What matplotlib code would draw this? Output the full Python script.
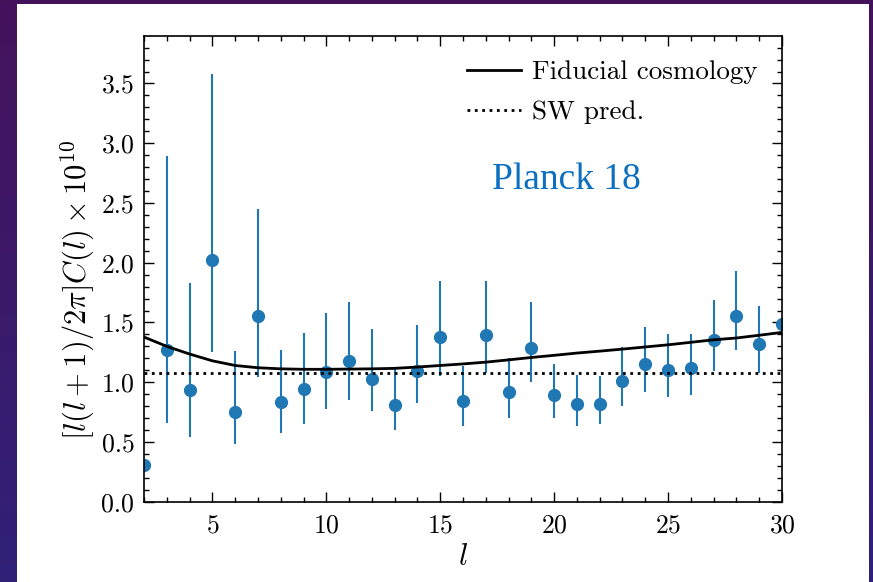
import numpy as np
import matplotlib
matplotlib.use("Agg")
import matplotlib.pyplot as plt
from matplotlib.patches import Rectangle

plt.rcParams['mathtext.fontset'] = 'cm'
plt.rcParams['font.family'] = 'serif'
plt.rcParams['font.serif'] = ['cmr10']
plt.rcParams['axes.formatter.use_mathtext'] = True

# Multipole data points with asymmetric error bars
ell = [2, 3, 4, 5, 6, 7, 8, 9, 10, 11, 12, 13, 14, 15, 16,
       17, 18, 19, 20, 21, 22, 23, 24, 25, 26, 27, 28, 29, 30]
power = [0.308, 1.266, 0.936, 2.026, 0.752, 1.557, 0.833, 0.945, 1.085, 1.174,
         1.031, 0.811, 1.090, 1.378, 0.842, 1.397, 0.914, 1.286, 0.892, 0.816,
         0.821, 1.012, 1.152, 1.104, 1.118, 1.355, 1.551, 1.319, 1.490]
upper = [0.308, 2.892, 1.831, 3.577, 1.261, 2.453, 1.272, 1.414, 1.582, 1.674,
         1.448, 1.110, 1.481, 1.850, 1.132, 1.844, 1.202, 1.671, 1.154, 1.062,
         1.054, 1.291, 1.462, 1.403, 1.403, 1.691, 1.928, 1.640, 1.490]
lower = [0.308, 0.662, 0.540, 1.252, 0.484, 1.043, 0.573, 0.654, 0.775, 0.850,
         0.758, 0.601, 0.825, 1.054, 0.637, 1.081, 0.704, 1.001, 0.699, 0.637,
         0.649, 0.805, 0.914, 0.875, 0.892, 1.098, 1.266, 1.081, 1.490]

# Fiducial cosmology curve
fid_ell = list(range(2, 31))
fid_power = [1.378, 1.300, 1.236, 1.179, 1.140, 1.121, 1.112, 1.108, 1.108, 1.110,
             1.112, 1.116, 1.127, 1.140, 1.153, 1.168, 1.187, 1.207, 1.225, 1.244,
             1.260, 1.277, 1.295, 1.313, 1.334, 1.355, 1.370, 1.393, 1.417]

# Sachs-Wolfe plateau
sw_level = 1.076

W, H = 873, 582
fig = plt.figure(figsize=(W / 100, H / 100), dpi=100)

# Slide background: purple gradient with a white panel
bg = fig.add_axes([0, 0, 1, 1], zorder=-10)
grad = np.linspace(0, 1, 256)[:, None, None]
top_c = np.array([0.27, 0.07, 0.36])
bot_c = np.array([0.19, 0.13, 0.47])
img = top_c * (1 - grad) + bot_c * grad
bg.imshow(img, aspect='auto', extent=[0, 1, 0, 1], origin='upper')
bg.add_patch(Rectangle((17 / W, 0), (869 - 17) / W, (H - 4) / H,
                       facecolor='white', edgecolor='none'))
bg.set_xlim(0, 1)
bg.set_ylim(0, 1)
bg.axis('off')

ax = fig.add_axes([144 / W, (H - 501.7) / H, (782 - 144) / W, (501.7 - 35.7) / H])

p = np.array(power)
yerr = np.vstack([p - np.array(lower), np.array(upper) - p])
ax.errorbar(ell, power, yerr=yerr, fmt='o', color='#1f77b4', ms=8.5,
            elinewidth=1.5, capsize=0, zorder=2)
ax.plot(fid_ell, fid_power, color='black', lw=2.0, label='Fiducial cosmology', zorder=3)
ax.axhline(sw_level, color='black', lw=2.0, ls=':', label='SW pred.', zorder=3)

ax.set_xlim(2, 30)
ax.set_ylim(0, 3.9)
ax.set_xticks([5, 10, 15, 20, 25, 30])
ax.set_xticks(range(2, 31), minor=True)
ax.set_yticks(np.arange(0, 3.6, 0.5))
ax.set_yticks(np.arange(0, 3.9, 0.1), minor=True)
ax.yaxis.set_major_formatter(matplotlib.ticker.FormatStrFormatter('%.1f'))
ax.tick_params(which='both', direction='in', top=True, right=True,
               labelsize=18.5, width=1.0)
ax.tick_params(axis='x', pad=9)
ax.tick_params(axis='y', pad=7)
ax.tick_params(which='major', length=7)
ax.tick_params(which='minor', length=3.5)
for s in ax.spines.values():
    s.set_linewidth(1.2)

ax.set_xlabel(r'$l$', fontsize=22, labelpad=4)
ax.set_ylabel(r'$[l(l+1)/2\pi]C(l)\times 10^{10}$', fontsize=22)
ax.yaxis.set_label_coords(-0.074, 0.455)

leg = ax.legend(loc='upper right', frameon=False, fontsize=19.5,
                handlelength=2.0, handletextpad=0.4, labelspacing=0.6,
                borderaxespad=0.5)

ax.text(0.662, 0.69, 'Planck 18', transform=ax.transAxes, fontsize=27,
        family='Liberation Serif', color='#0a6fc0', ha='center', va='center')

fig.savefig('out.png', dpi=100)
